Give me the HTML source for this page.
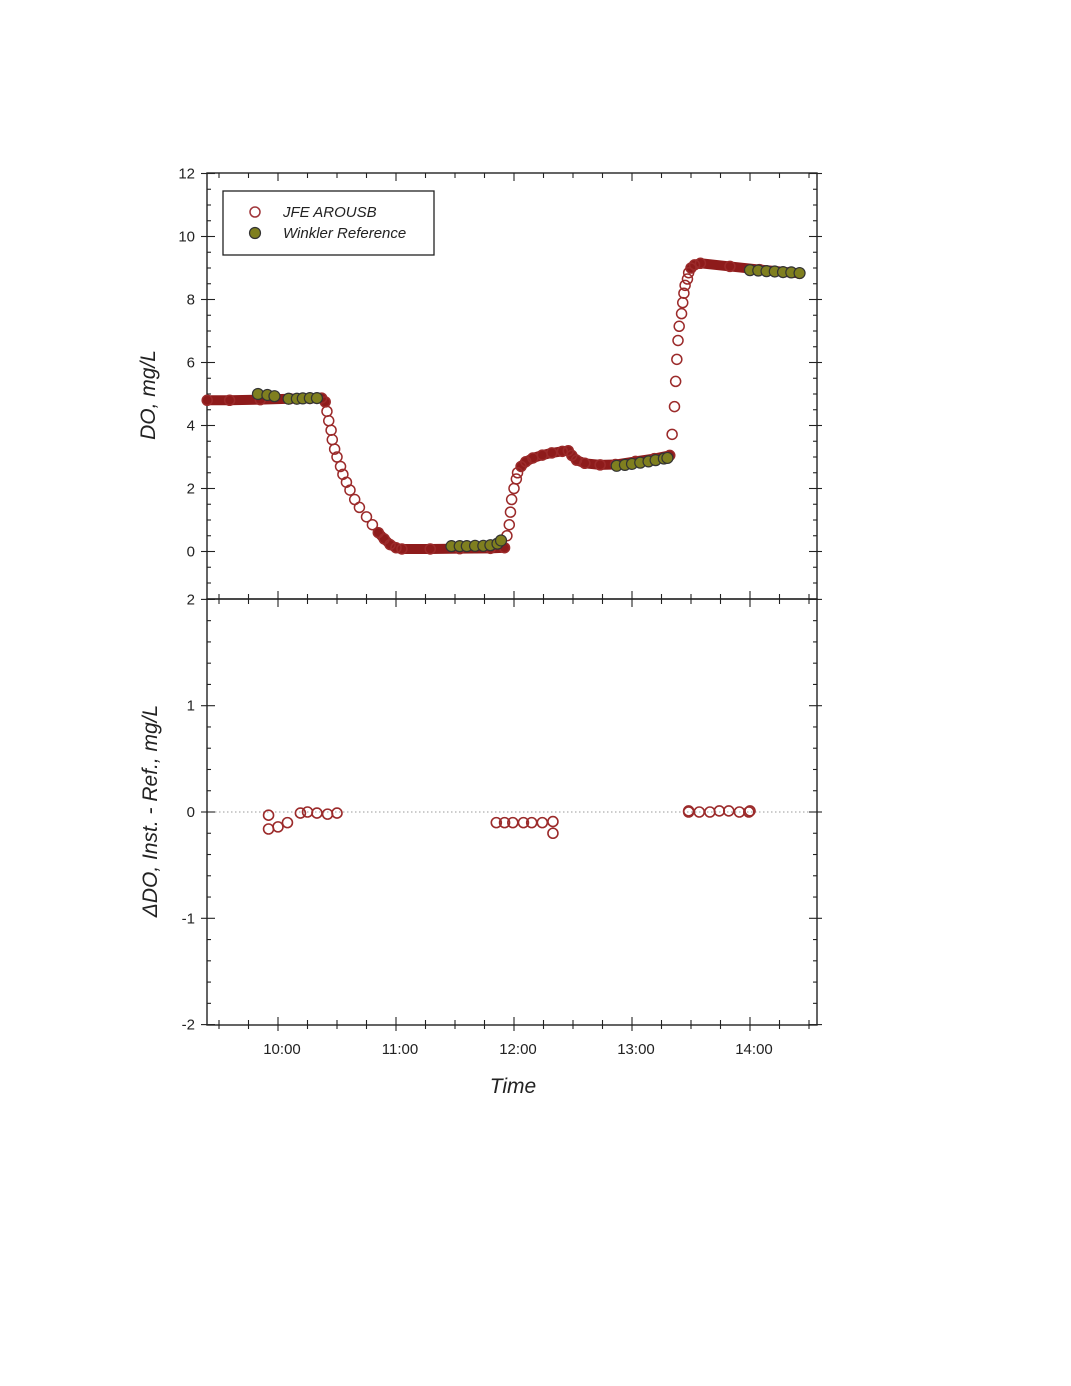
<!DOCTYPE html>
<html><head><meta charset="utf-8"><style>
html,body{margin:0;padding:0;background:#fff;}
svg{display:block;font-family:"Liberation Sans",Arial,sans-serif;}
</style></head><body>
<svg id="chart" width="1071" height="1386" viewBox="0 0 1071 1386" xmlns="http://www.w3.org/2000/svg">
<rect width="1071" height="1386" fill="#fff"/>
<g id="frame"></g>
<g id="axes"></g>
<g id="marks"></g>
<text transform="translate(155,395) rotate(-90)" text-anchor="middle" font-size="21" font-style="italic" fill="#222">DO, mg/L</text>
<text transform="translate(157,811) rotate(-90)" text-anchor="middle" font-size="21" font-style="italic" fill="#222">ΔDO, Inst. - Ref., mg/L</text>
<text x="513" y="1093" text-anchor="middle" font-size="21" font-style="italic" fill="#222">Time</text>
<g>
<rect x="223" y="191" width="211" height="64" fill="#fff" stroke="#222" stroke-width="1.3"/>
<circle cx="255" cy="212" r="5" fill="#fff" stroke="#a0353a" stroke-width="1.5"/>
<text x="283" y="217" font-size="15" font-style="italic" fill="#222">JFE AROUSB</text>
<circle cx="255" cy="233" r="5.5" fill="#7f7f1f" stroke="#333" stroke-width="1.2"/>
<text x="283" y="238" font-size="15" font-style="italic" fill="#222">Winkler Reference</text>
</g>
</svg>
<script>
// ---- data ----
const jfeTime = [9.40,9.59,9.85,10.10,10.27,10.37,10.40,10.415,10.43,10.45,10.46,10.48,10.50,10.53,10.55,10.58,10.61,10.65,10.69,10.75,10.80,10.85,10.90,10.95,11.00,11.05,11.29,11.54,11.80,11.92,11.94,11.96,11.97,11.98,12.00,12.02,12.03,12.06,12.10,12.16,12.24,12.32,12.41,12.46,12.49,12.53,12.60,12.73,12.86,13.03,13.19,13.32,13.34,13.36,13.37,13.38,13.39,13.40,13.42,13.43,13.44,13.45,13.47,13.48,13.50,13.53,13.58,13.83,14.08,14.42];
const jfeDO = [4.80,4.80,4.82,4.85,4.86,4.87,4.75,4.45,4.15,3.85,3.55,3.25,3.0,2.7,2.45,2.2,1.95,1.65,1.4,1.1,0.85,0.6,0.4,0.22,0.12,0.08,0.08,0.09,0.10,0.12,0.5,0.85,1.25,1.65,2.0,2.3,2.5,2.7,2.85,2.97,3.06,3.13,3.18,3.2,3.05,2.9,2.8,2.75,2.76,2.86,2.95,3.05,3.72,4.6,5.4,6.1,6.7,7.15,7.55,7.9,8.2,8.45,8.65,8.85,9.0,9.1,9.15,9.05,8.95,8.83];
const winTime = [9.83,9.91,9.97,10.09,10.16,10.21,10.27,10.33,11.47,11.54,11.60,11.67,11.74,11.80,11.86,11.89,12.87,12.94,13.00,13.07,13.14,13.20,13.27,13.30,14.00,14.07,14.14,14.21,14.28,14.35,14.42];
const winDO = [5.0,4.97,4.93,4.85,4.85,4.86,4.87,4.87,0.17,0.17,0.17,0.18,0.18,0.2,0.25,0.35,2.72,2.75,2.78,2.82,2.86,2.9,2.95,2.97,8.93,8.92,8.9,8.89,8.87,8.86,8.84];
const resTime = [9.92,9.92,10.0,10.08,10.19,10.25,10.33,10.42,10.50,11.85,11.92,11.99,12.08,12.15,12.24,12.33,12.33,13.48,13.48,13.57,13.66,13.74,13.82,13.91,13.99,14.0];
const resVal = [-0.03,-0.16,-0.14,-0.10,-0.01,0.0,-0.01,-0.02,-0.01,-0.10,-0.10,-0.10,-0.10,-0.10,-0.10,-0.09,-0.20,0.01,0.0,0.0,0.0,0.01,0.01,0.0,0.0,0.01];
const topTicks = [0,2,4,6,8,10,12];
const botTicks = [-2,-1,0,1,2];
const botTickLabels = ["-2","-1","0","1","2"];
const timeTicks = [10,11,12,13,14];
const timeLabels = ["10:00","11:00","12:00","13:00","14:00"];

// ---- scales ----
const L=207,R=817,T=173,M=599,B=1025;
const x = t => 278 + (t-10)*118;
const yTop = v => 551.5 - 31.5*v;
const yBot = v => 812 - 106.3*v;
const NS="http://www.w3.org/2000/svg";
function mk(tag,parent){const e=document.createElementNS(NS,tag);parent.appendChild(e);return e;}
function line(p,x1,y1,x2,y2,w,c){const e=mk('line',p);e.setAttribute('x1',x1);e.setAttribute('y1',y1);e.setAttribute('x2',x2);e.setAttribute('y2',y2);e.setAttribute('stroke',c||'#222');e.setAttribute('stroke-width',w||1.3);return e;}
const frame=document.getElementById('frame'), axes=document.getElementById('axes'), marks=document.getElementById('marks');

[[T,M,'top-panel-frame'],[M,B,'bottom-panel-frame']].forEach(([a,b,n])=>{
  const r=mk('rect',frame);
  
  
  r.setAttribute('x',L);r.setAttribute('y',a);r.setAttribute('width',R-L);r.setAttribute('height',b-a);
  r.setAttribute('fill','none');r.setAttribute('stroke','#222');r.setAttribute('stroke-width','1.4');
});

const zl=line(axes,L,yBot(0),R,yBot(0),1,'#999');
zl.setAttribute('stroke-dasharray','1.5 2.5');



for(let v=-1;v<=12;v+=0.5){const yy=yTop(v);const maj=Number.isInteger(v)&&v%2===0;
  line(axes,L,yy,L+(maj?8:4),yy,1.1);line(axes,R,yy,R-(maj?8:4),yy,1.1);
  if(maj){line(axes,L-6,yy,L,yy,1.1);line(axes,R,yy,R+5,yy,1.1);}}
topTicks.forEach(v=>{const t=mk('text',axes);
  
  
  t.setAttribute('x',195);t.setAttribute('y',yTop(v)+5);t.setAttribute('text-anchor','end');t.setAttribute('font-size','15');t.setAttribute('fill','#222');t.textContent=v;});
for(let i=-10;i<=10;i++){const v=i/5;const yy=yBot(v);const maj=i%5===0;
  line(axes,L,yy,L+(maj?8:4),yy,1.1);line(axes,R,yy,R-(maj?8:4),yy,1.1);
  if(maj){line(axes,L-6,yy,L,yy,1.1);line(axes,R,yy,R+5,yy,1.1);}}
botTicks.forEach((v,i)=>{const t=mk('text',axes);
  
  
  t.setAttribute('x',195);t.setAttribute('y',yBot(v)+5);t.setAttribute('text-anchor','end');t.setAttribute('font-size','15');t.setAttribute('fill','#222');t.textContent=botTickLabels[i];});
for(let t=9.5;t<=14.51;t+=0.25){const xx=x(t);const maj=Math.abs(t-Math.round(t))<1e-6;
  [[B,-1],[M,-1],[M,1],[T,1]].forEach(([yy,d])=>{line(axes,xx,yy,xx,yy+d*(maj?8:5),1.1);});
  line(axes,xx,B,xx,B+(maj?6:4),1.1);}
timeTicks.forEach((t,i)=>{const e=mk('text',axes);
  
  
  e.setAttribute('x',x(t)+4);e.setAttribute('y',1054);e.setAttribute('text-anchor','middle');e.setAttribute('font-size','15');e.setAttribute('fill','#222');e.textContent=timeLabels[i];});

// JFE solid band where readings are dense (shallow slope)
for(let i=0;i<jfeTime.length-1;i++){
  const x1=x(jfeTime[i]),y1=yTop(jfeDO[i]),x2=x(jfeTime[i+1]),y2=yTop(jfeDO[i+1]);
  if(Math.abs(y2-y1) <= 1.15*Math.abs(x2-x1) + 0.5){
    const l=line(marks,x1,y1,x2,y2,10,'#8e1b1b');l.setAttribute('stroke-linecap','round');
    
    
  }
}
jfeTime.forEach((t,i)=>{const c=mk('circle',marks);
  
  
  c.setAttribute('cx',x(t));c.setAttribute('cy',yTop(jfeDO[i]));c.setAttribute('r',5);
  c.setAttribute('fill','none');c.setAttribute('stroke','#9b2a2a');c.setAttribute('stroke-width','1.5');});
winTime.forEach((t,i)=>{const c=mk('circle',marks);
  
  
  c.setAttribute('cx',x(t));c.setAttribute('cy',yTop(winDO[i]));c.setAttribute('r',5.5);
  c.setAttribute('fill','#7f7f1f');c.setAttribute('stroke','#333');c.setAttribute('stroke-width','1.2');});
resTime.forEach((t,i)=>{const c=mk('circle',marks);
  
  
  c.setAttribute('cx',x(t));c.setAttribute('cy',yBot(resVal[i]));c.setAttribute('r',5);
  c.setAttribute('fill','none');c.setAttribute('stroke','#9b2a2a');c.setAttribute('stroke-width','1.6');});
</script>
</body></html>
